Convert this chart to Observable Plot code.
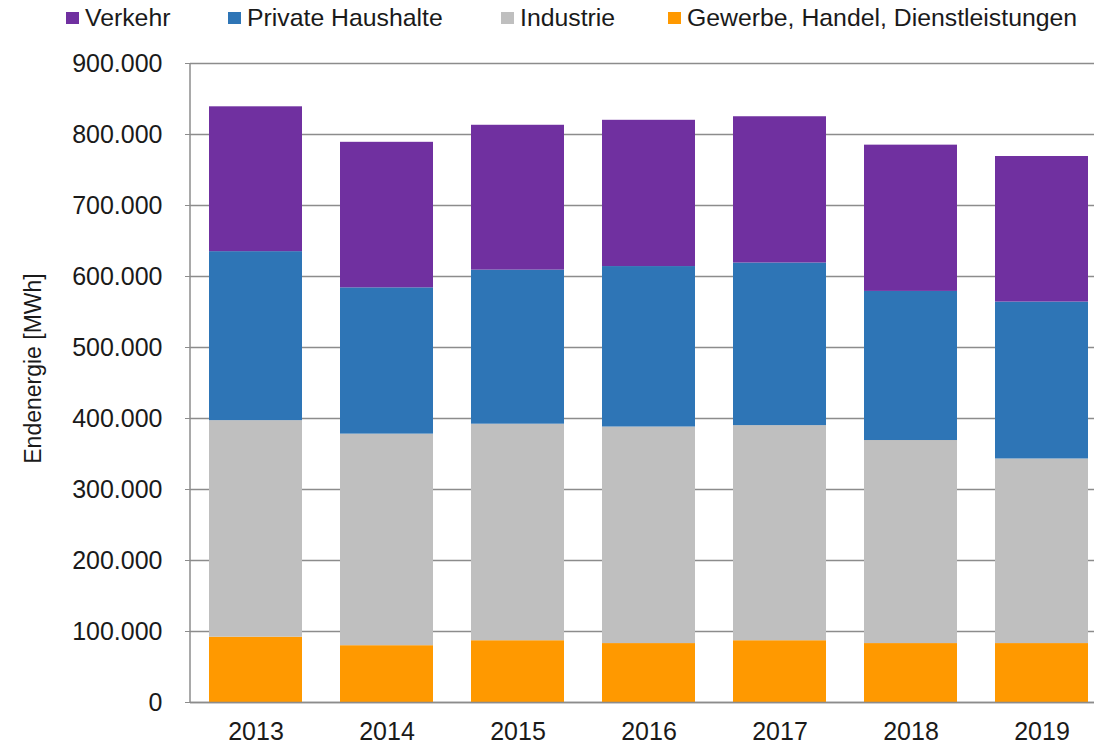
<!DOCTYPE html>
<html>
<head>
<meta charset="utf-8">
<script src="https://cdn.jsdelivr.net/npm/d3@7"></script>
<script src="https://cdn.jsdelivr.net/npm/@observablehq/plot@0.6"></script>
<style>
  html, body { margin: 0; background: #fff; font-family: "Liberation Sans", Arial, sans-serif; overflow: hidden; }
  #legend { position: relative; width: 1094px; height: 36px; }
  .item { position: absolute; top: 0; height: 36px; display: flex; align-items: center;
          font-size: 24.8px; color: #1a1a1a; white-space: nowrap; }
  .sw { width: 13px; height: 12px; margin-right: 6px; }
  #chart { width: 1094px; height: 708px; overflow: hidden; }
  #chart svg { display: block; max-width: none !important; }
</style>
</head>
<body>
<div id="legend"></div>
<div id="chart"></div>
<script>
// ---- data (MWh) ----
const years = ["2013", "2014", "2015", "2016", "2017", "2018", "2019"];
const gewerbe = [92000, 80000, 87000, 83000, 87000, 83000, 83000];
const industrie = [305000, 298000, 305000, 305000, 303000, 286000, 260000];
const privateHaushalte = [238000, 206000, 217000, 226000, 229000, 210000, 221000];
const verkehr = [204000, 205000, 204000, 206000, 206000, 206000, 205000];

const legendNames = ["Verkehr", "Private Haushalte", "Industrie", "Gewerbe, Handel, Dienstleistungen"];
const legendColors = ["#7030A0", "#2E75B6", "#BFBFBF", "#FF9900"];
const stackOrder = ["Gewerbe, Handel, Dienstleistungen", "Industrie", "Private Haushalte", "Verkehr"];
const yTicks = [0, 100000, 200000, 300000, 400000, 500000, 600000, 700000, 800000, 900000];
const yTitle = "Endenergie [MWh]";

const seriesValues = {
  "Verkehr": verkehr,
  "Private Haushalte": privateHaushalte,
  "Industrie": industrie,
  "Gewerbe, Handel, Dienstleistungen": gewerbe
};
const data = [];
years.forEach((year, i) => {
  for (const s of stackOrder) data.push({year, series: s, value: seriesValues[s][i]});
});

// ---- legend ----
const legendX = [66, 228, 501, 668];
const legend = document.getElementById("legend");
legendNames.forEach((name, i) => {
  const it = document.createElement("div");
  it.className = "item";
  it.style.left = legendX[i] + "px";
  const sw = document.createElement("span");
  sw.className = "sw";
  sw.style.background = legendColors[i];
  const tx = document.createElement("span");
  tx.textContent = name;
  it.appendChild(sw);
  it.appendChild(tx);
  legend.appendChild(it);
});

// ---- chart (plot area runs past the right edge, as in the cropped original) ----
const fmt = d3.formatLocale({decimal: ",", thousands: ".", grouping: [3], currency: ["", " €"]}).format(",d");
const axisColor = "#8c8c8c";

const chart = Plot.plot({
  width: 1108,
  height: 708,
  marginTop: 27,
  marginBottom: 42,
  marginLeft: 190,
  marginRight: 0,
  style: {fontFamily: "Liberation Sans, Arial, sans-serif", fontSize: "25px", color: "#1a1a1a", background: "#fff", maxWidth: "none"},
  x: {domain: years, paddingInner: 0.287, paddingOuter: 0.14, label: null},
  y: {domain: [0, 900000], label: null},
  color: {domain: legendNames, range: legendColors},
  marks: [
    Plot.gridY(yTicks, {stroke: axisColor, strokeOpacity: 1, strokeWidth: 1.5}),
    Plot.barY(data, Plot.stackY({x: "year", y: "value", fill: "series", order: stackOrder})),
    Plot.axisY(yTicks, {tickSize: 5, tickPadding: 23, tickFormat: fmt, stroke: axisColor, label: null, fontSize: 25}),
    Plot.axisX({tickSize: 0, tickPadding: 20, label: null, fontSize: 25}),
    Plot.ruleY([0], {stroke: axisColor, strokeWidth: 1.5}),
    Plot.text([yTitle], {frameAnchor: "left", textAnchor: "middle", dx: -157, dy: -14.5, rotate: -90, fontSize: 23, fill: "#1a1a1a"})
  ]
});
chart.style.maxWidth = "none";

// left axis line, placed from the chart's own scales
const xs = chart.scale("x");
const ys = chart.scale("y");
d3.select(chart).append("line")
  .attr("x1", xs.range[0]).attr("x2", xs.range[0])
  .attr("y1", ys.apply(ys.domain[0])).attr("y2", ys.apply(ys.domain[1]))
  .attr("stroke", axisColor).attr("stroke-width", 1.5);

document.getElementById("chart").appendChild(chart);
</script>
</body>
</html>
